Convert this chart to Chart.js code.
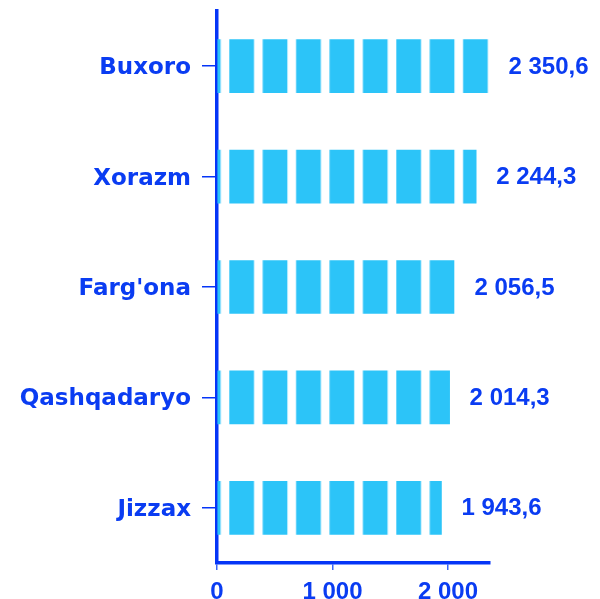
<!DOCTYPE html>
<html>
<head>
<meta charset="utf-8">
<script src="https://cdn.jsdelivr.net/npm/chart.js@4/dist/chart.umd.min.js"></script>
<style>
  html, body { margin: 0; padding: 0; background: #ffffff; }
  #c { display: block; }
</style>
</head>
<body>
<canvas id="c" width="600" height="599"></canvas>
<script>
const categories = ['Buxoro', 'Xorazm', "Farg'ona", 'Qashqadaryo', 'Jizzax'];
const values = [2350.6, 2244.3, 2056.5, 2014.3, 1943.6];
const xTicks = [0, 1000, 2000];

const TEXT_BLUE = '#0a3cf2';
const AXIS_BLUE = '#0535f7';
const BAR_BLUE = '#2cc4f8';

function fmtThousands(n, decimals) {
  const s = n.toFixed(decimals);
  const parts = s.split('.');
  const intPart = parts[0].replace(/\B(?=(\d{3})+(?!\d))/g, ' ');
  return parts.length > 1 ? intPart + ',' + parts[1] : intPart;
}

// Segmented bar pattern
function makePattern(ctx) {
  const period = 33.4, block = 24.7, n = 10;
  const pc = document.createElement('canvas');
  pc.width = Math.round(period * n);
  pc.height = 4;
  const p = pc.getContext('2d');
  p.fillStyle = BAR_BLUE;
  for (let i = 0; i < n; i++) {
    p.fillRect(i * period, 0, block, 4);
  }
  const pat = ctx.createPattern(pc, 'repeat');
  pat.setTransform(new DOMMatrix([1, 0, 0, 1, 229.3, 0]));
  return pat;
}

const canvas = document.getElementById('c');
const ctx = canvas.getContext('2d');
const pattern = makePattern(ctx);

const valueLabels = {
  id: 'valueLabels',
  afterDatasetsDraw(chart) {
    const c = chart.ctx;
    const meta = chart.getDatasetMeta(0);
    c.save();
    c.font = 'bold 24px "Liberation Sans", Arial, sans-serif';
    c.fillStyle = TEXT_BLUE;
    c.textAlign = 'left';
    c.textBaseline = 'middle';
    meta.data.forEach((bar, i) => {
      c.fillText(fmtThousands(values[i], 1), bar.x + 20, bar.y + 1);
    });
    c.restore();
  }
};

new Chart(ctx, {
  type: 'bar',
  data: {
    labels: categories,
    datasets: [{
      data: values,
      backgroundColor: pattern,
      borderWidth: 0,
      barThickness: 53
    }]
  },
  options: {
    indexAxis: 'y',
    responsive: false,
    animation: false,
    devicePixelRatio: 1,
    layout: { padding: { top: 11, right: 110, left: 0, bottom: 0 } },
    plugins: {
      legend: { display: false },
      tooltip: { enabled: false }
    },
    scales: {
      x: {
        type: 'linear',
        min: 0,
        max: 2364,
        afterBuildTicks(scale) {
          scale.ticks = xTicks.map(v => ({ value: v }));
        },
        afterFit(scale) {
          scale.height = 36;
          scale.paddingLeft = 0;
          scale.paddingRight = 0;
        },
        grid: {
          drawOnChartArea: false,
          drawTicks: true,
          tickLength: 7,
          color: '#3a66f5',
          lineWidth: 1.5
        },
        border: { display: true, color: AXIS_BLUE, width: 3.5 },
        ticks: {
          padding: 8,
          color: TEXT_BLUE,
          font: { family: '"Liberation Sans", Arial, sans-serif', weight: 'bold', size: 24 },
          callback: (v) => fmtThousands(v, 0),
          maxRotation: 0
        }
      },
      y: {
        type: 'category',
        afterFit(scale) {
          scale.width = 217;
          scale.paddingTop = 0;
          scale.paddingBottom = 0;
        },
        grid: {
          offset: false,
          drawOnChartArea: false,
          drawTicks: true,
          tickLength: 15,
          color: AXIS_BLUE,
          lineWidth: 1.5
        },
        border: { display: true, color: AXIS_BLUE, width: 3.5 },
        ticks: {
          padding: 11,
          labelOffset: 2,
          color: TEXT_BLUE,
          font: { family: '"DejaVu Sans", sans-serif', weight: 'bold', size: 23 }
        }
      }
    }
  },
  plugins: [valueLabels]
});
</script>
</body>
</html>
